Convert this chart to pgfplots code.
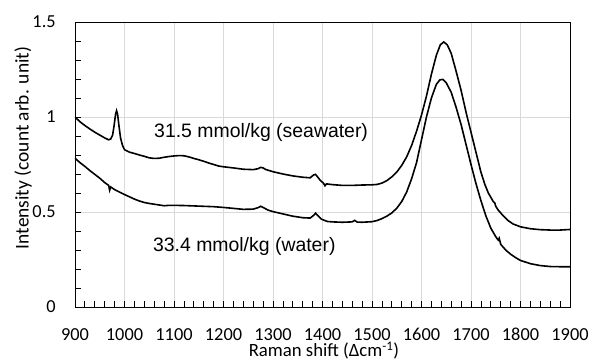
\documentclass[border=0pt]{standalone}
\usepackage{fontspec}
\setmainfont{Carlito}
\newfontfamily\arialfont{Liberation Sans}
\usepackage{pgfplots}
\pgfplotsset{compat=1.18}
\pgfplotstableread{
x y
900 1.000
910 0.975
920 0.955
930 0.937
940 0.920
950 0.905
960 0.890
968 0.880
972 0.884
976 0.905
979 0.955
982 1.015
984 1.033
986 1.015
989 0.950
992 0.890
996 0.850
1000 0.828
1010 0.815
1020 0.808
1030 0.800
1040 0.793
1050 0.785
1060 0.782
1070 0.783
1080 0.788
1090 0.792
1100 0.795
1110 0.797
1120 0.796
1130 0.790
1140 0.782
1150 0.775
1160 0.767
1170 0.758
1180 0.750
1190 0.742
1200 0.738
1220 0.732
1240 0.725
1260 0.723
1270 0.728
1275 0.735
1280 0.732
1285 0.724
1300 0.712
1320 0.700
1340 0.690
1360 0.683
1375 0.680
1382 0.695
1386 0.698
1390 0.685
1396 0.665
1402 0.652
1405 0.638
1408 0.648
1420 0.644
1440 0.640
1460 0.640
1480 0.642
1500 0.643
1510 0.645
1520 0.652
1530 0.665
1540 0.685
1550 0.710
1560 0.745
1570 0.790
1580 0.850
1590 0.925
1600 1.010
1610 1.110
1620 1.225
1630 1.325
1638 1.380
1645 1.395
1652 1.380
1660 1.335
1670 1.240
1680 1.140
1690 1.025
1700 0.920
1710 0.815
1720 0.710
1728 0.645
1735 0.600
1745 0.555
1748 0.548
1750 0.530
1755 0.510
1765 0.480
1775 0.455
1785 0.437
1800 0.422
1820 0.412
1840 0.407
1860 0.405
1880 0.405
1900 0.408
}\seawater
\pgfplotstableread{
x y
900 0.783
910 0.760
920 0.740
930 0.718
940 0.698
950 0.678
960 0.655
968 0.640
970 0.615
972 0.632
980 0.618
990 0.605
1000 0.592
1010 0.580
1020 0.568
1030 0.558
1040 0.550
1050 0.545
1060 0.541
1070 0.537
1080 0.533
1090 0.535
1100 0.535
1120 0.534
1140 0.532
1160 0.530
1180 0.528
1200 0.524
1220 0.519
1240 0.514
1260 0.515
1270 0.523
1275 0.530
1280 0.524
1290 0.510
1300 0.502
1320 0.490
1340 0.478
1360 0.470
1375 0.468
1382 0.482
1386 0.494
1390 0.482
1398 0.462
1410 0.450
1420 0.448
1440 0.446
1460 0.448
1465 0.456
1470 0.447
1480 0.446
1500 0.449
1510 0.455
1520 0.465
1530 0.478
1540 0.495
1550 0.520
1560 0.555
1570 0.605
1580 0.675
1590 0.760
1600 0.880
1610 1.000
1620 1.100
1630 1.172
1637 1.195
1643 1.198
1650 1.180
1660 1.130
1670 1.050
1680 0.960
1690 0.855
1700 0.750
1710 0.650
1720 0.560
1730 0.480
1740 0.415
1750 0.370
1755 0.352
1757 0.362
1760 0.330
1770 0.300
1780 0.278
1790 0.260
1800 0.245
1820 0.228
1840 0.218
1860 0.213
1880 0.212
1900 0.212
}\water
\begin{document}
\fontsize{18.4}{22}\selectfont
\begin{tikzpicture}
\path[use as bounding box] (-75bp,-55bp) rectangle (515bp,307bp);
\begin{axis}[
  at={(0,0)}, anchor=south west,
  width=495bp, height=285bp, scale only axis,
  xmin=900, xmax=1900, ymin=0, ymax=1.5,
  xtick={900,1000,...,1900}, ytick={0,0.5,1,1.5},
  minor x tick num=4, minor y tick num=4,
  tick align=inside, xtick pos=left, ytick pos=left,
  major tick length=6bp, minor tick length=6bp,
  every tick/.style={black, line width=0.8bp},
  grid=major, major grid style={draw=black!15, line width=0.9bp},
  axis line style={black, line width=0.9bp},
  /pgf/number format/assume math mode=true,
  /pgf/number format/1000 sep={},
  tick label style={font=\fontsize{18.4}{22}\selectfont},
  xticklabel style={inner sep=0pt, yshift=-21bp},
  yticklabel style={xshift=-13bp},
  xlabel={Raman shift (Δcm\textsuperscript{-1})},
  ylabel={Intensity (count arb. unit)},
  xlabel style={font=\fontsize{18.8}{23}\selectfont, inner sep=0pt, at={(axis description cs:0.503,-0.174)}, anchor=base},
  ylabel style={font=\fontsize{19.5}{24}\selectfont, at={(axis description cs:-0.105,0.558)}, anchor=center},
]
\addplot[black, line width=1.6bp] table[x=x, y=y] {\seawater};
\addplot[black, line width=1.6bp] table[x=x, y=y] {\water};
\node[font=\arialfont\fontsize{19.5}{23}\selectfont] at (axis cs:1276,0.92) {31.5 mmol/kg (seawater)};
\node[font=\arialfont\fontsize{19.5}{23}\selectfont] at (axis cs:1242,0.316) {33.4 mmol/kg (water)};
\end{axis}
\end{tikzpicture}
\end{document}
